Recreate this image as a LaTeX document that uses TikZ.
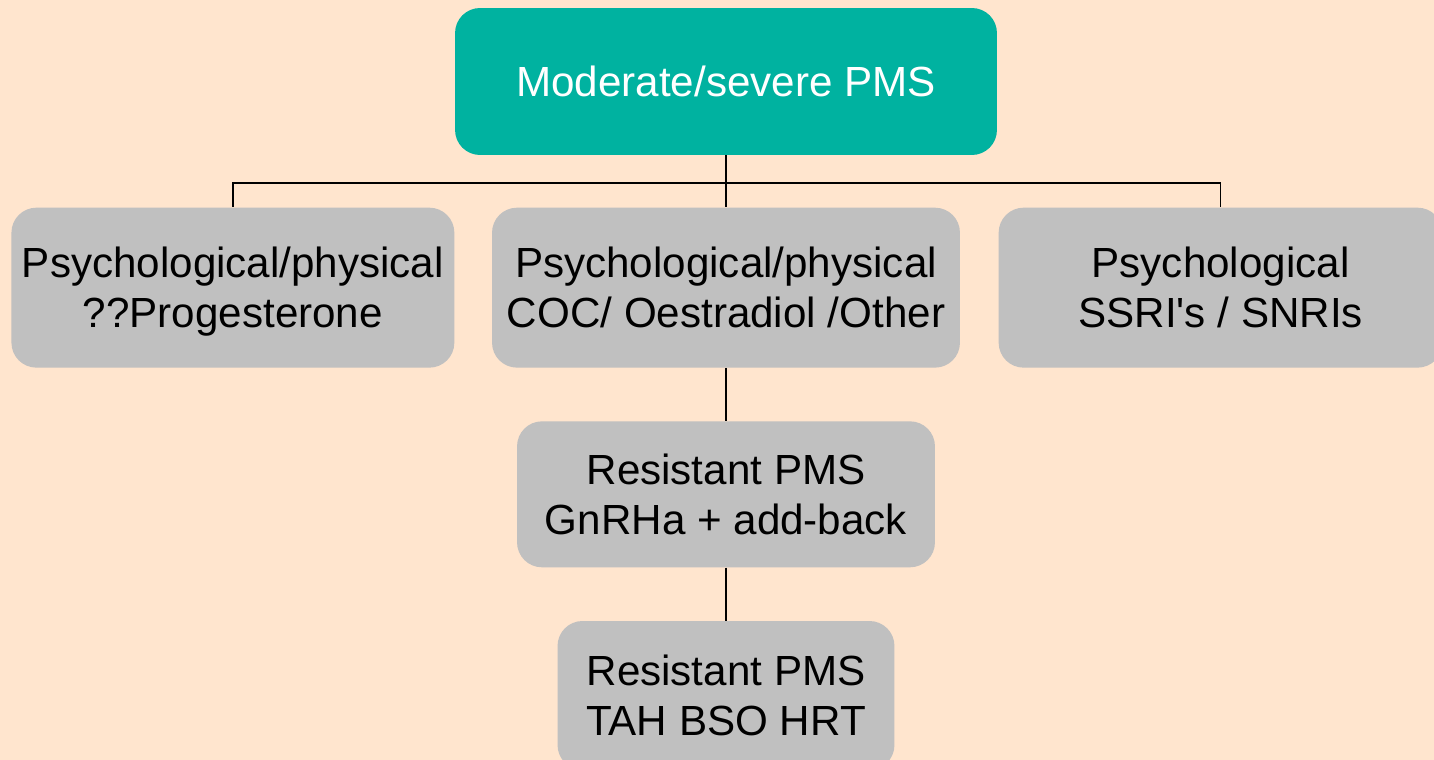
\documentclass[tikz,border=0pt]{standalone}
\usepackage{fontspec}
\setmainfont{Liberation Sans}
\usepackage{xcolor}
\usetikzlibrary{positioning}
\definecolor{peach}{HTML}{FFE5CE}
\definecolor{pmsteal}{HTML}{00B2A0}
\definecolor{boxgrey}{HTML}{C0C0C0}
\newcommand{\linestrut}{\rule[-0.2\baselineskip]{0pt}{\baselineskip}}

\begin{document}
\begin{tikzpicture}[x=0.02cm, y=-0.02cm, node distance=1.06cm, every node/.style={rounded corners=0.5cm, align=center, font=\fontsize{24}{28.5}\selectfont}]
    \useasboundingbox (0,0) rectangle (1434,760);
    \clip (0,0) rectangle (1434,760);
    \fill[peach] (0,0) rectangle (1434,760);
    \node[fill=pmsteal,text=white,minimum width=10.84cm,minimum height=2.94cm] (pms) at (726,81.5) {Moderate/severe PMS};
    \node[fill=boxgrey,minimum width=9.36cm,minimum height=3.2cm, below=1.04cm of pms] (coc) {\linestrut Psychological/physical\\COC/ Oestradiol /Other\linestrut};
    \node[fill=boxgrey,minimum width=8.86cm,minimum height=3.2cm, left=0.74cm of coc] (prog) {\linestrut Psychological/physical\\??Progesterone\linestrut};
    \node[fill=boxgrey,minimum width=8.88cm,minimum height=3.2cm, right=0.76cm of coc] (ssri) {\linestrut Psychological\\SSRI\textquotesingle s / SNRIs\linestrut};
    \node[fill=boxgrey,minimum width=8.36cm,minimum height=2.92cm, below=of coc] (gnrh) {\linestrut Resistant PMS\\GnRHa + add-back\linestrut};
    \node[fill=boxgrey,minimum width=6.74cm,minimum height=2.98cm, below=of gnrh] (tah) {\linestrut Resistant PMS\\TAH BSO HRT\linestrut};
    \draw[line width=1pt] (pms.south) -- (coc.north);
    \draw[line width=1pt] (pms.south) -- ++(0,28) -| (prog.north);
    \draw[line width=1pt] (pms.south) -- ++(0,28) -| (ssri.north);
    \draw[line width=1pt] (coc) -- (gnrh);
    \draw[line width=1pt] (gnrh) -- (tah);
\end{tikzpicture}
\end{document}
